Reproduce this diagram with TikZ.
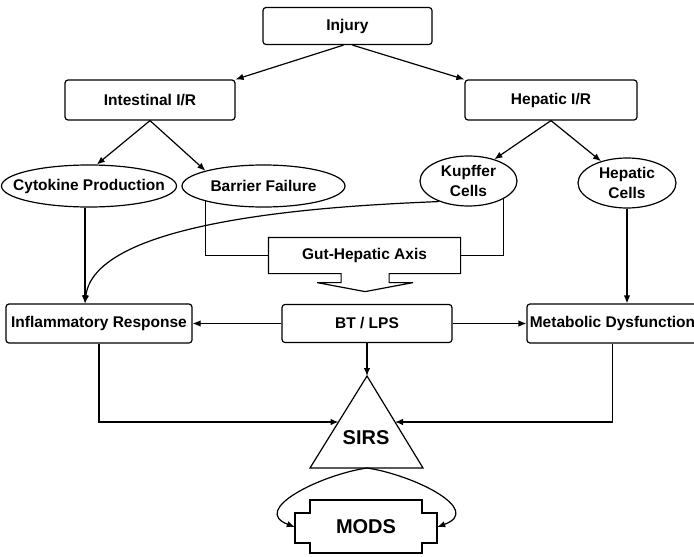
\documentclass[tikz,border=0pt]{standalone}
\usepackage{fontspec}
\setmainfont{Liberation Sans}
\usetikzlibrary{arrows.meta,shapes.geometric}
\tikzset{
    box/.style={rectangle,draw,rounded corners=3pt,line width=1.2pt,inner sep=0pt,font=\fontsize{15.5}{18}\selectfont\bfseries},
    oval/.style={ellipse,draw,line width=1.2pt,inner sep=0pt},
    ovaltext/.style={align=center,inner sep=0pt,font=\fontsize{15.5}{20}\selectfont\bfseries},
    big/.style={inner sep=0pt,font=\fontsize{20}{24}\selectfont\bfseries},
    dedge/.style={->,>={Latex[length=8pt,width=6.5pt]},line width=1.2pt},
    edge/.style={-,line width=1.2pt},
}

\begin{document}
\begin{tikzpicture}[x=1pt,y=-1pt]
    \useasboundingbox (0,0) rectangle (694,557);
    \node[box,minimum width=169pt,minimum height=37pt] (injury) at (347.5,26) {Injury};
    \node[box,minimum width=170pt,minimum height=40pt] (intes) at (150,100) {Intestinal I/R};
    \node[box,minimum width=172pt,minimum height=40pt] (hepir) at (551,100) {Hepatic I/R};
    \node[oval,minimum width=175pt,minimum height=42pt,label={[ovaltext]center:Cytokine Production}] (cyto) at (89,186) {};
    \node[oval,minimum width=163pt,minimum height=42pt,label={[ovaltext]center:Barrier Failure}] (barrier) at (263.5,186) {};
    \node[oval,minimum width=97pt,minimum height=50pt,label={[ovaltext]center:Kupffer\\Cells}] (kupffer) at (468.5,181) {};
    \node[oval,minimum width=98pt,minimum height=50pt,label={[ovaltext]center:Hepatic\\Cells}] (hepcells) at (627,183) {};
    \node[box,draw=none,minimum width=191pt,minimum height=35pt] (gut) at (364.5,255.5) {Gut-Hepatic Axis};
    \node[box,minimum width=186pt,minimum height=39pt] (inflam) at (99,323.5) {Inflammatory Response};
    \node[box,minimum width=170pt,minimum height=38pt] (btlps) at (367,323.5) {BT / LPS};
    \node[box,minimum width=171pt,minimum height=39pt] (metab) at (612.5,323.5) {Metabolic Dysfunction};
    \coordinate (sirstop) at (367,376);
    \coordinate (sirsbl) at (310,468);
    \coordinate (sirsbr) at (423,468);
    \coordinate (sirsbase) at (367,468);
    \coordinate (sirsl) at (338.5,422);
    \coordinate (sirsr) at (395,422);
    \node[big] (sirs) at (366,438) {SIRS};
    \node[big,minimum width=142pt,minimum height=30pt] (mods) at (366,527) {MODS};

    % outlines drawn by hand
    \draw[edge] (gut.south west) -- (gut.north west) -- (gut.north east) -- (gut.south east)
        -- ++(-71.5,0) -- ++(0,9) -- ++(24,0) -- ++(-48,9) -- ++(-48,-9) -- ++(24,0) -- ++(0,-9) -- cycle;
    \draw[edge] (sirstop) -- (sirsbr) -- (sirsbl) -- cycle;
    \draw[edge] (310,500) -- (422,500) -- (422,513) -- (437,513) -- (437,543) -- (422,543) -- (422,553)
        -- (310,553) -- (310,543) -- (295,543) -- (295,513) -- (310,513) -- cycle;

    \draw[dedge] ([xshift=-4pt]injury.south) -- (intes.north east);
    \draw[dedge] ([xshift=5pt]injury.south) -- (hepir.north west);
    \draw[dedge] (intes.south) -- (cyto.70);
    \draw[dedge] (intes.south) -- (barrier.north west);
    \draw[dedge] (hepir.south) -- (kupffer.40);
    \draw[dedge] (hepir.south) -- (hepcells.140);
    \draw[dedge] ([xshift=-4pt]cyto.south) -- ([xshift=-4pt]cyto.south |- inflam.north);
    \draw[dedge] (kupffer.215) .. controls (360,205) and (95,215) .. ([xshift=-4pt]cyto.south |- inflam.north);
    \draw[edge] (barrier.south west) |- (gut.west);
    \draw[edge] (kupffer.south east) |- (gut.east);
    \draw[dedge] (hepcells.south) -- (hepcells.south |- metab.north);
    \draw[dedge] (btlps) -- (inflam);
    \draw[dedge] (btlps) -- (metab);
    \draw[dedge] (btlps.south) -- (sirstop);
    \draw[dedge] (inflam.south) |- (sirsl);
    \draw[dedge] (metab.south) |- (sirsr);
    \draw[dedge] (sirsbase) .. controls (320,475) and (250,510) .. (mods.west);
    \draw[dedge] (sirsbase) .. controls (414,475) and (484,510) .. (mods.east);
\end{tikzpicture}
\end{document}
